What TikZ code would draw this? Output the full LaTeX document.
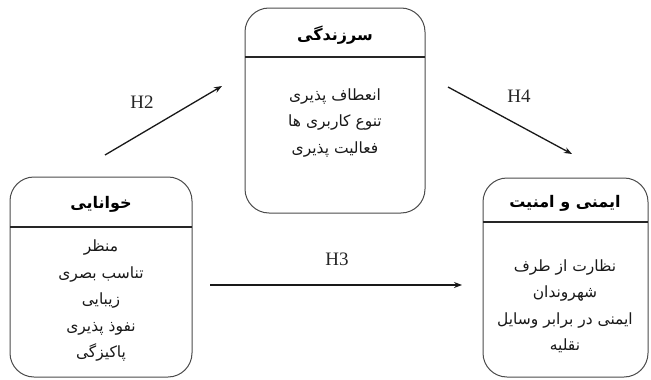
\documentclass[tikz,border=0pt]{standalone}
\usepackage{fontspec}
\usetikzlibrary{arrows.meta}
\TeXXeTstate=1
\setmainfont{Liberation Serif}
\newfontfamily\fafont[Script=Arabic]{DejaVu Sans}
\newcommand{\rl}[1]{\beginR #1\endR}
\begin{document}
\begin{tikzpicture}[x=1pt,y=-1pt,
  box/.style={draw=black!70, line width=1pt, rounded corners=24pt, inner sep=0pt, outer sep=0pt, anchor=north west},
  divider/.style={draw=black!85, line width=1.4pt},
  head/.style={font=\fafont\bfseries\fontsize{16}{18}\selectfont, text=black, inner sep=0pt},
  body/.style={font=\fafont\fontsize{15.5}{26.5}\selectfont, align=center, text=black!90, inner sep=0pt},
  conn/.style={line width=1.3pt, draw=black!90, -{Stealth[length=8pt,width=6pt]}},
  hlabel/.style={font=\fontsize{19}{21}\selectfont, text=black!85, inner sep=0pt}]
\useasboundingbox (0,0) rectangle (651,380);
\fill[white] (0,0) rectangle (651,380);

% left box
\node[box, minimum width=182pt, minimum height=200pt] (L) at (10,177) {};
\draw[divider] ([yshift=-50pt]L.north west) -- ([yshift=-50pt]L.north east);
\node[head] (Lh) at (101,204) {\rl{خوانایی}};
\node[body] (Lb) at (101,301) {\rl{منظر}\\\rl{تناسب بصری}\\\rl{زیبایی}\\\rl{نفوذ پذیری}\\\rl{پاکیزگی}};

% middle box
\node[box, minimum width=180pt, minimum height=205pt] (M) at (245,8) {};
\draw[divider] ([yshift=-49pt]M.north west) -- ([yshift=-49pt]M.north east);
\node[head] (Mh) at (335,35) {\rl{سرزندگی}};
\node[body] (Mb) at (335,123) {\rl{انعطاف پذیری}\\\rl{تنوع کاربری ها}\\\rl{فعالیت پذیری}};

% right box
\node[box, minimum width=165pt, minimum height=199pt] (R) at (483,178) {};
\draw[divider] ([yshift=-44pt]R.north west) -- ([yshift=-44pt]R.north east);
\node[head] (Rh) at (565,203) {\rl{ایمنی و امنیت}};
\node[body] (Rb) at (565,306) {\rl{نظارت از طرف}\\\rl{شهروندان}\\\rl{ایمنی در برابر وسایل}\\\rl{نقلیه}};

% connectors
\coordinate (h2s) at (105,155);
\coordinate (h2e) at (222,86);
\coordinate (h4s) at (448,87);
\coordinate (h4e) at (572,154);
\coordinate (h3s) at (210,285);
\coordinate (h3e) at (462,285);
\draw[conn] (h2s) -- (h2e);
\draw[conn] (h4s) -- (h4e);
\draw[conn] (h3s) -- (h3e);
\node[hlabel] (H2) at (142,102) {H2};
\node[hlabel] (H4) at (519,96) {H4};
\node[hlabel] (H3) at (337,259) {H3};
\end{tikzpicture}
\end{document}
